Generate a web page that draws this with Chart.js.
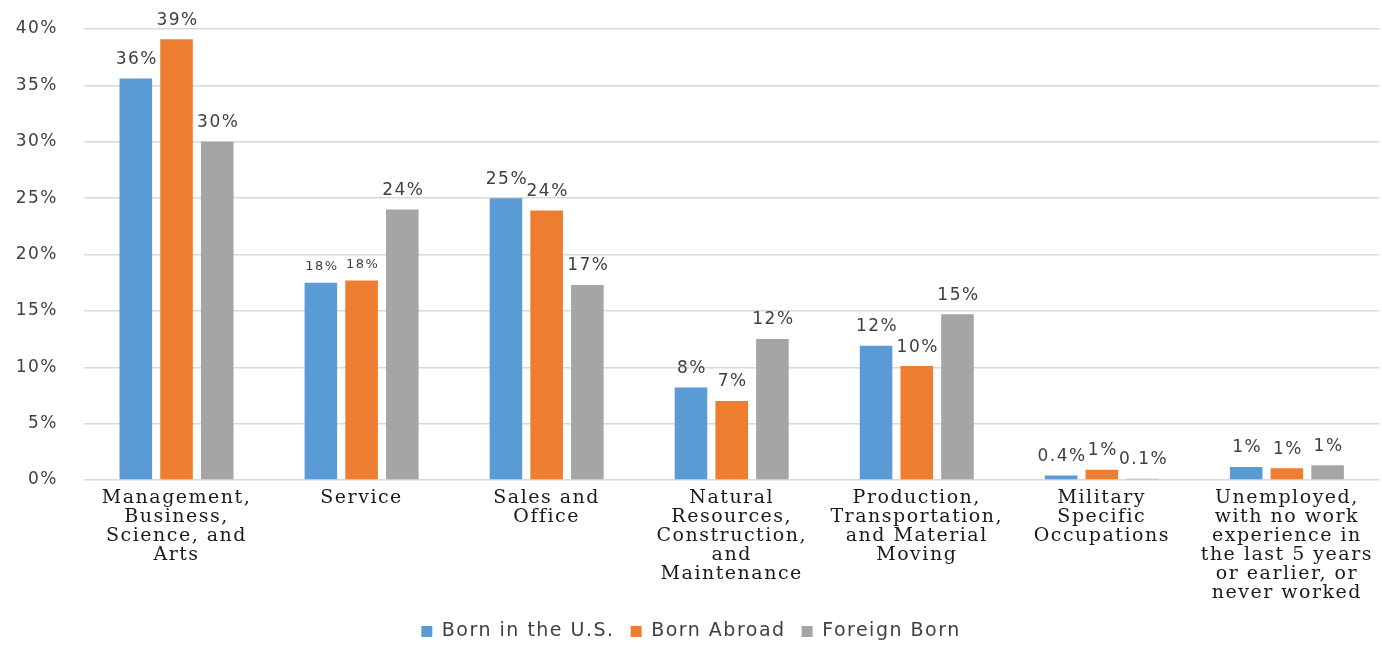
<!DOCTYPE html>
<html>
<head>
<meta charset="utf-8">
<script src="https://cdn.jsdelivr.net/npm/chart.js@4.4.1/dist/chart.umd.min.js"></script>
<style>
  html, body { margin: 0; padding: 0; background: #ffffff; }
  #wrap { width: 1382px; height: 646px; position: relative; }
</style>
</head>
<body>
<div id="wrap"><canvas id="c" width="1382" height="646"></canvas></div>
<script>
const categories = [
  ["Management,", "Business,", "Science, and", "Arts"],
  ["Service"],
  ["Sales and", "Office"],
  ["Natural", "Resources,", "Construction,", "and", "Maintenance"],
  ["Production,", "Transportation,", "and Material", "Moving"],
  ["Military", "Specific", "Occupations"],
  ["Unemployed,", "with no work", "experience in", "the last 5 years", "or earlier, or", "never worked"]
];
const seriesNames = ["Born in the U.S.", "Born Abroad", "Foreign Born"];
const bornUS      = [35.6, 17.5, 25.0, 8.2, 11.9, 0.4, 1.15];
const bornAbroad  = [39.1, 17.7, 23.9, 7.0, 10.1, 0.9, 1.05];
const foreignBorn = [30.0, 24.0, 17.3, 12.5, 14.7, 0.1, 1.3];
const labelsUS      = ["36%", "18%", "25%", "8%", "12%", "0.4%", "1%"];
const labelsAbroad  = ["39%", "18%", "24%", "7%", "10%", "1%", "1%"];
const labelsForeign = ["30%", "24%", "17%", "12%", "15%", "0.1%", "1%"];
const yTicks = [0, 5, 10, 15, 20, 25, 30, 35, 40];

const colors = ["#5B9BD5", "#ED7D31", "#A5A5A5"];
const valueLabels = [labelsUS, labelsAbroad, labelsForeign];

const spacingPlugin = {
  id: "spacing",
  beforeUpdate(chart) { chart.ctx.letterSpacing = "1.5px"; },
  beforeDraw(chart) { chart.ctx.letterSpacing = "1.5px"; }
};

const dataLabelPlugin = {
  id: "dataLabels",
  afterDatasetsDraw(chart) {
    const ctx = chart.ctx;
    ctx.save();
    ctx.fillStyle = "#404040";
    ctx.textAlign = "center";
    ctx.textBaseline = "middle";
    chart.data.datasets.forEach((ds, di) => {
      const meta = chart.getDatasetMeta(di);
      meta.data.forEach((bar, i) => {
        const small = (i === 1 && di < 2);
        ctx.font = (small ? "13px" : "17px") + " 'DejaVu Sans', sans-serif";
        ctx.fillText(valueLabels[di][i], bar.x + 1, bar.y - (small ? 16 : 19));
      });
    });
    ctx.restore();
  }
};

new Chart(document.getElementById("c"), {
  type: "bar",
  data: {
    labels: categories,
    datasets: [
      { label: seriesNames[0], data: bornUS, backgroundColor: colors[0] },
      { label: seriesNames[1], data: bornAbroad, backgroundColor: colors[1] },
      { label: seriesNames[2], data: foreignBorn, backgroundColor: colors[2] }
    ]
  },
  options: {
    responsive: false,
    animation: false,
    devicePixelRatio: 1,
    layout: { padding: { top: 29, right: 0, bottom: 0, left: 0 } },
    datasets: { bar: { categoryPercentage: 0.66, barPercentage: 0.8 } },
    scales: {
      x: {
        grid: { display: false, drawTicks: false },
        border: { display: false },
        ticks: {
          color: "#1a1a1a",
          font: { family: "'DejaVu Serif', 'Liberation Serif', serif", size: 19, lineHeight: 1.0 },
          padding: 9,
          maxRotation: 0,
          autoSkip: false
        },
        afterFit(scale) { scale.height = 126; }
      },
      y: {
        min: 0, max: 40,
        afterBuildTicks(scale) { scale.ticks = yTicks.map(v => ({ value: v })); },
        grid: { color: "#D9D9D9", lineWidth: 1.5, drawTicks: false },
        border: { display: false },
        ticks: {
          color: "#404040",
          font: { family: "'DejaVu Sans', sans-serif", size: 17 },
          padding: 26,
          callback: v => v + "%"
        },
        afterFit(scale) { scale.width = 84; scale.paddingTop = 0; scale.paddingBottom = 0; }
      }
    },
    plugins: {
      legend: {
        position: "bottom",
        maxHeight: 40,
        labels: {
          color: "#404040",
          font: { family: "'DejaVu Sans', sans-serif", size: 19 },
          boxWidth: 11, boxHeight: 11,
          padding: 16
        }
      },
      tooltip: { enabled: false }
    }
  },
  plugins: [spacingPlugin, dataLabelPlugin]
});
</script>
</body>
</html>
